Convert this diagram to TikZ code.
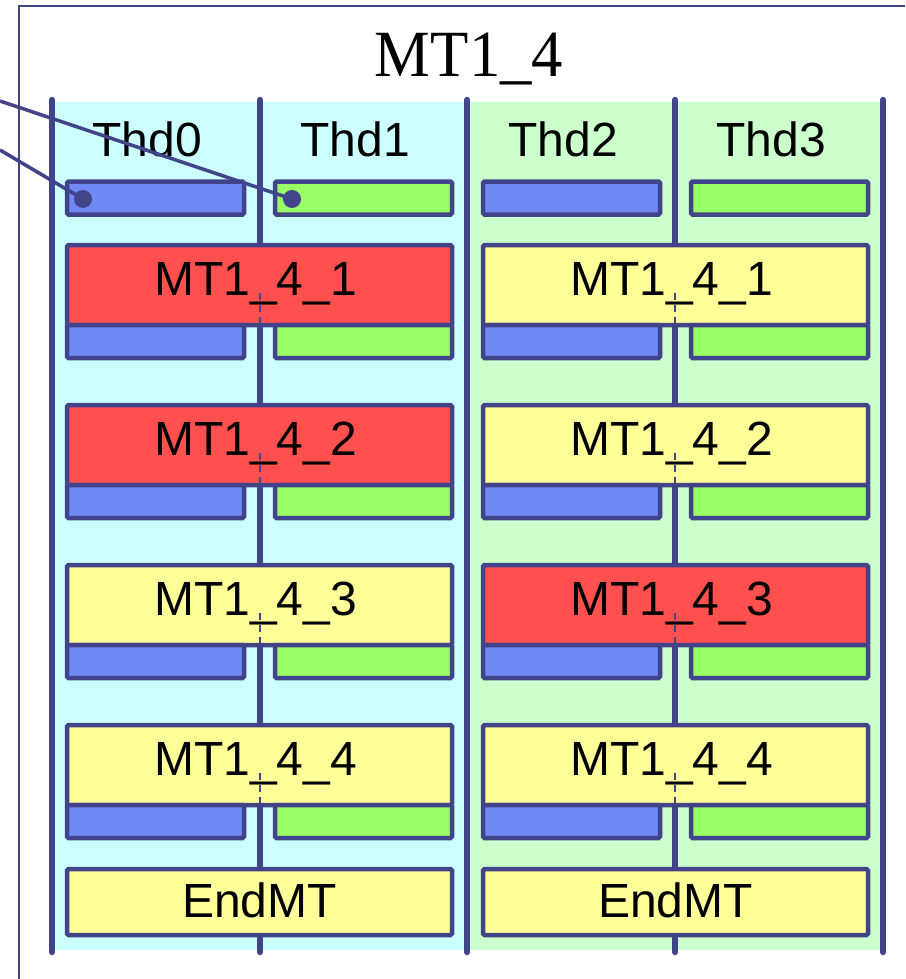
\documentclass[tikz,border=0pt]{standalone}
\usepackage{fontspec}
\setmainfont{Liberation Sans}
\newfontfamily\titlefont{Liberation Serif}

\definecolor{navy}{RGB}{66,68,138}
\definecolor{cyanbg}{RGB}{204,255,255}
\definecolor{greenbg}{RGB}{204,255,204}
\definecolor{bluebar}{RGB}{112,137,245}
\definecolor{greenbar}{RGB}{153,255,102}
\definecolor{redbox}{RGB}{255,80,80}
\definecolor{yelbox}{RGB}{255,255,153}

\begin{document}
\begin{tikzpicture}[x=1pt,y=-1pt,
  lbl/.style={font=\fontsize{48}{52}\selectfont, inner sep=0pt, anchor=base},
  divider/.style={draw=navy, line width=6.5pt, line cap=round},
  bigbox/.style={draw=navy, line width=4.5pt, rounded corners=1.5pt,
    minimum width=385pt, minimum height=80pt, inner sep=0pt,
    font=\fontsize{48}{52}\selectfont, text height=34pt, text depth=14pt},
  endbox/.style={bigbox, minimum height=66pt, text height=34pt, text depth=4pt},
  bar/.style={draw=navy, line width=4.5pt, rounded corners=1.5pt,
    minimum width=177pt, minimum height=33pt, inner sep=0pt},
  bbar/.style={bar, fill=bluebar},
  gbar/.style={bar, fill=greenbar},
  midline/.style={draw=navy, line width=1.8pt, dash pattern=on 7pt off 5pt},
  pointer/.style={draw=navy, line width=3.5pt},
  dot/.style={circle, fill=navy, minimum size=18pt, inner sep=0pt}]

\useasboundingbox (0,0) rectangle (905,979);
\fill[white] (0,0) rectangle (905,979);

% outer frame, open towards the right and bottom
\draw[navy, line width=2pt] (19,979) -- (19,6) -- (905,6);

% title
\node[font=\titlefont\fontsize{66}{70}\selectfont, inner sep=0pt, anchor=base]
  (title) at (469,77) {\scalebox{0.95}[1]{MT1\_4}};

% two thread-group bands
\fill[cyanbg] (52,102) rectangle (467,950);
\fill[greenbg] (467,102) rectangle (883,950);

% thread dividers
\foreach \x [count=\i] in {52,260,467,675,883}
  \draw[divider] (\x,100) coordinate (top\i) -- (\x,952) coordinate (bot\i);

% thread headers and their bars
\foreach \t in {0,1,2,3} {
  \node[lbl] (thd\t) at ({147+208*\t},157) {Thd\t};
}
\node[bbar] (bar0) at (155.5,198) {};
\node[gbar] (bar1) at (363.5,198) {};
\node[bbar] (bar2) at (571.5,198) {};
\node[gbar] (bar3) at (779.5,198) {};

% code blocks of each thread pair
\foreach \r/\y/\lc/\rc in {1/245/redbox/yelbox, 2/405/redbox/yelbox,
                           3/565/yelbox/redbox, 4/725/yelbox/yelbox} {
  \node[bigbox, fill=\lc] (L\r) at (259.5,\y+40) {MT1\_4\_\r\kern8pt};
  \node[bigbox, fill=\rc] (R\r) at (675.5,\y+40) {MT1\_4\_\r\kern8pt};
  \draw[midline] (260,\y+48) -- (260,\y+80);
  \draw[midline] (675,\y+48) -- (675,\y+80);
  \node[bbar] (L\r a) at (155.5,\y+96.5) {};
  \node[gbar] (L\r b) at (363.5,\y+96.5) {};
  \node[bbar] (R\r a) at (571.5,\y+96.5) {};
  \node[gbar] (R\r b) at (779.5,\y+96.5) {};
}

\node[endbox, fill=yelbox] (endL) at (259.5,902) {EndMT};
\node[endbox, fill=yelbox] (endR) at (675.5,902) {EndMT};

% pointers coming in from the left
\coordinate (inA) at (0,101);
\coordinate (inB) at (0,150);
\node[dot] (dotG) at (292,199) {};
\node[dot] (dotB) at (83,199) {};
\draw[pointer] (inA) -- (dotG.center);
\draw[pointer] (inB) -- (dotB.center);
\end{tikzpicture}
\end{document}
